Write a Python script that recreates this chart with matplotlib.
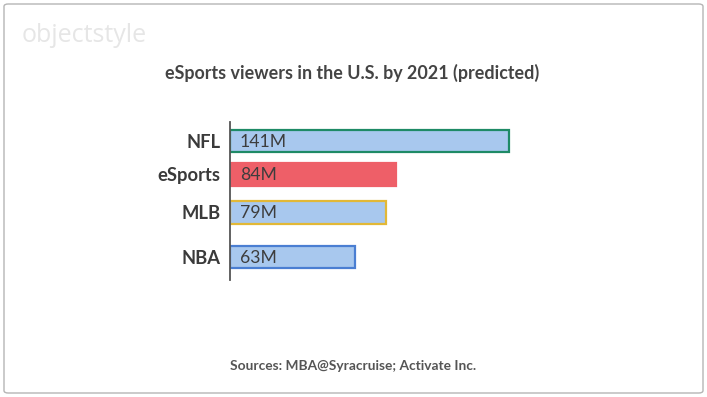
import matplotlib
matplotlib.use("Agg")
import matplotlib.pyplot as plt
from matplotlib.patches import FancyBboxPatch

categories = ["NFL", "eSports", "MLB", "NBA"]
values = [141, 84, 79, 63]
value_labels = ["141M", "84M", "79M", "63M"]
title = "eSports viewers in the U.S. by 2021 (predicted)"
source = "Sources: MBA@Syracruise; Activate Inc."
watermark = "objectstyle"

# layout / style (not data)
ypos = [0.0, 1.0, 2.134, 3.463]
fills = ["#a8c8ee", "#ee5f68", "#a8c8ee", "#a8c8ee"]
edges = ["#1e8a66", "#ee5f68", "#e2b837", "#4a7ed2"]

W, H = 707, 397
fig = plt.figure(figsize=(W / 100, H / 100), dpi=100)
fig.patch.set_facecolor("white")

# rounded frame
frame = FancyBboxPatch((4 / W, 4 / H), (W - 8) / W, (H - 8) / H,
                       boxstyle="round,pad=0,rounding_size=0.006",
                       transform=fig.transFigure, facecolor="none",
                       edgecolor="#b5b5b5", linewidth=1.0, zorder=-5)
fig.patches.append(frame)

ax_left, ax_right = 230 / W, 600 / W
ax_top, ax_bot = 122 / H, 280 / H
ax = fig.add_axes([ax_left, 1 - ax_bot, ax_right - ax_left, ax_bot - ax_top])
ax.set_facecolor("none")

for y, v, f, e, lab in zip(ypos, values, fills, edges, value_labels):
    ax.barh(y, v, height=0.66, left=0, color=f, edgecolor=e, linewidth=1.6)
    ax.text(5, y + 0.02, lab, va="center", ha="left", fontsize=12.7,
            family="Lato", color="#3d3d3d")

ax.set_xlim(0, 370 / 1.979)
ax.set_ylim(4.149, -0.567)
ax.set_yticks(ypos)
ax.set_yticklabels(categories, family="Lato", fontweight="bold",
                   fontsize=13.2, color="#3a3a3a")
ax.tick_params(axis="y", length=0, pad=7)
ax.set_xticks([])
for s in ["top", "right", "bottom"]:
    ax.spines[s].set_visible(False)
ax.spines["left"].set_color("#555555")
ax.spines["left"].set_linewidth(1.3)

fig.text(352 / W, 1 - 73 / H, title, ha="center", va="center",
         family="Lato", fontweight="bold", fontsize=12.9, color="#444444")
fig.text(353 / W, 1 - 366 / H, source, ha="center", va="center",
         family="Lato", fontweight="bold", fontsize=9.9, color="#555555")
fig.text(22 / W, 1 - 36 / H, watermark, ha="left", va="center",
         family="Open Sans", fontsize=18, color="#e6e6e6")

fig.savefig("out.png", dpi=100, facecolor="white")
